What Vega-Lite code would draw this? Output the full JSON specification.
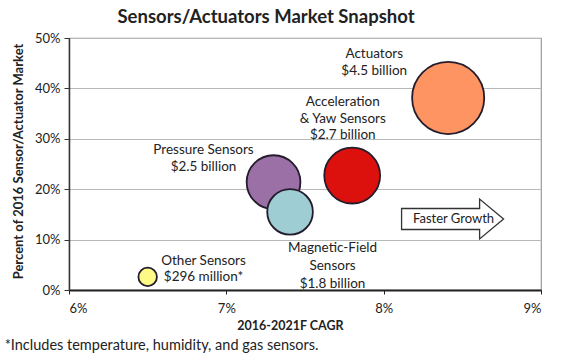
{
  "$schema": "https://vega.github.io/schema/vega-lite/v6.json",
  "width": 472,
  "height": 252,
  "autosize": {"type": "none"},
  "padding": {"left": 69, "top": 38, "right": 21, "bottom": 73},
  "background": "white",
  "config": {
    "font": "Lato",
    "view": {"stroke": "#9a9a9a", "strokeWidth": 1.2},
    "axis": {"labelFont": "Lato", "titleFont": "Lato", "labelColor": "#222", "titleColor": "#222"}
  },
  "title": {
    "text": "Sensors/Actuators Market Snapshot",
    "fontSize": 18.5,
    "fontWeight": "bold",
    "color": "#222",
    "anchor": "middle",
    "dx": -39,
    "offset": 6
  },
  "datasets": {
    "bubbles": [
      {"name": "Other Sensors", "cagr": 0.065, "share": 0.026, "value": 0.296, "z": 1},
      {"name": "Pressure Sensors", "cagr": 0.073, "share": 0.214, "value": 2.5, "z": 2},
      {"name": "Magnetic-Field Sensors", "cagr": 0.07405, "share": 0.155, "value": 1.8, "z": 3},
      {"name": "Acceleration & Yaw Sensors", "cagr": 0.078, "share": 0.227, "value": 2.7, "z": 4},
      {"name": "Actuators", "cagr": 0.0841, "share": 0.381, "value": 4.5, "z": 5}
    ],
    "labels": [
      {"cagr": 0.0794, "share": 0.468, "text": "Actuators"},
      {"cagr": 0.0794, "share": 0.4345, "text": "$4.5 billion"},
      {"cagr": 0.0774, "share": 0.373, "text": "Acceleration"},
      {"cagr": 0.0774, "share": 0.339, "text": "& Yaw Sensors"},
      {"cagr": 0.0774, "share": 0.3075, "text": "$2.7 billion"},
      {"cagr": 0.06855, "share": 0.278, "text": "Pressure Sensors"},
      {"cagr": 0.06855, "share": 0.244, "text": "$2.5 billion"},
      {"cagr": 0.07675, "share": 0.0833, "text": "Magnetic-Field"},
      {"cagr": 0.07675, "share": 0.0476, "text": "Sensors"},
      {"cagr": 0.07675, "share": 0.0119, "text": "$1.8 billion"},
      {"cagr": 0.06855, "share": 0.0575, "text": "Other Sensors"},
      {"cagr": 0.06855, "share": 0.0258, "text": "$296 million*"}
    ],
    "arrow": [
      {"cagr": 0.08438, "share": 0.1409, "text": "Faster Growth"}
    ],
    "note": [
      {"cagr": 0.05591, "share": -0.1111, "text": "*Includes temperature, humidity, and gas sensors."}
    ]
  },
  "layer": [
    {
      "data": {"name": "bubbles"},
      "mark": {"type": "point", "filled": true, "opacity": 1, "strokeWidth": 1.8, "stroke": "#241c2c", "shape": "circle"},
      "encoding": {
        "x": {
          "field": "cagr", "type": "quantitative",
          "scale": {"domain": [0.06, 0.09], "nice": false, "zero": false},
          "axis": {
            "values": [0.06, 0.07, 0.08, 0.09], "format": ".0%",
            "title": "2016-2021F CAGR", "titleFontSize": 12.5, "titleFontWeight": "bold",
            "titleX": 221, "titleY": 35, "titleBaseline": "middle",
            "grid": false, "domainColor": "#222", "domainWidth": 2,
            "tickColor": "#222", "tickSize": 4, "labelFontSize": 13, "labelPadding": 8
          }
        },
        "y": {
          "field": "share", "type": "quantitative",
          "scale": {"domain": [0, 0.5], "nice": false},
          "axis": {
            "values": [0, 0.1, 0.2, 0.3, 0.4, 0.5], "format": ".0%",
            "title": "Percent of 2016 Sensor/Actuator Market", "titleFontSize": 13, "titleFontWeight": "bold",
            "titleX": -51, "titleY": 123, "titleBaseline": "middle", "titleAngle": -90,
            "grid": true, "gridColor": "#b8b8b8", "gridWidth": 1.2,
            "domainColor": "#333", "domainWidth": 1.5,
            "tickColor": "#333", "tickSize": 5, "labelFontSize": 13, "labelPadding": 4
          }
        },
        "size": {
          "field": "value", "type": "quantitative",
          "scale": {"domain": [0, 4.5], "range": [0, 5200], "zero": true},
          "legend": null
        },
        "color": {
          "field": "name", "type": "nominal",
          "scale": {
            "domain": ["Other Sensors", "Pressure Sensors", "Magnetic-Field Sensors", "Acceleration & Yaw Sensors", "Actuators"],
            "range": ["#fdfb86", "#9b70a6", "#9ecdd3", "#dc100c", "#fd9462"]
          },
          "legend": null
        },
        "order": {"field": "z", "type": "quantitative"}
      }
    },
    {
      "data": {"name": "labels"},
      "mark": {"type": "text", "fontSize": 13.5, "color": "#222", "align": "center", "baseline": "middle"},
      "encoding": {
        "x": {"field": "cagr", "type": "quantitative"},
        "y": {"field": "share", "type": "quantitative"},
        "text": {"field": "text"}
      }
    },
    {
      "data": {"name": "arrow"},
      "mark": {
        "type": "point", "filled": true, "fill": "white", "stroke": "#333", "strokeWidth": 1.3, "opacity": 1,
        "shape": "M -1 -0.206 L 0.53 -0.206 L 0.53 -0.39 L 1 0 L 0.53 0.39 L 0.53 0.206 L -1 0.206 Z",
        "size": 10404
      },
      "encoding": {
        "x": {"field": "cagr", "type": "quantitative"},
        "y": {"field": "share", "type": "quantitative"}
      }
    },
    {
      "data": {"name": "arrow"},
      "mark": {"type": "text", "fontSize": 13, "color": "#222", "align": "center", "baseline": "middle", "dx": 1},
      "encoding": {
        "x": {"field": "cagr", "type": "quantitative"},
        "y": {"field": "share", "type": "quantitative"},
        "text": {"field": "text"}
      }
    },
    {
      "data": {"name": "note"},
      "mark": {"type": "text", "fontSize": 14.5, "color": "#222", "align": "left", "baseline": "middle"},
      "encoding": {
        "x": {"field": "cagr", "type": "quantitative"},
        "y": {"field": "share", "type": "quantitative"},
        "text": {"field": "text"}
      }
    }
  ]
}
